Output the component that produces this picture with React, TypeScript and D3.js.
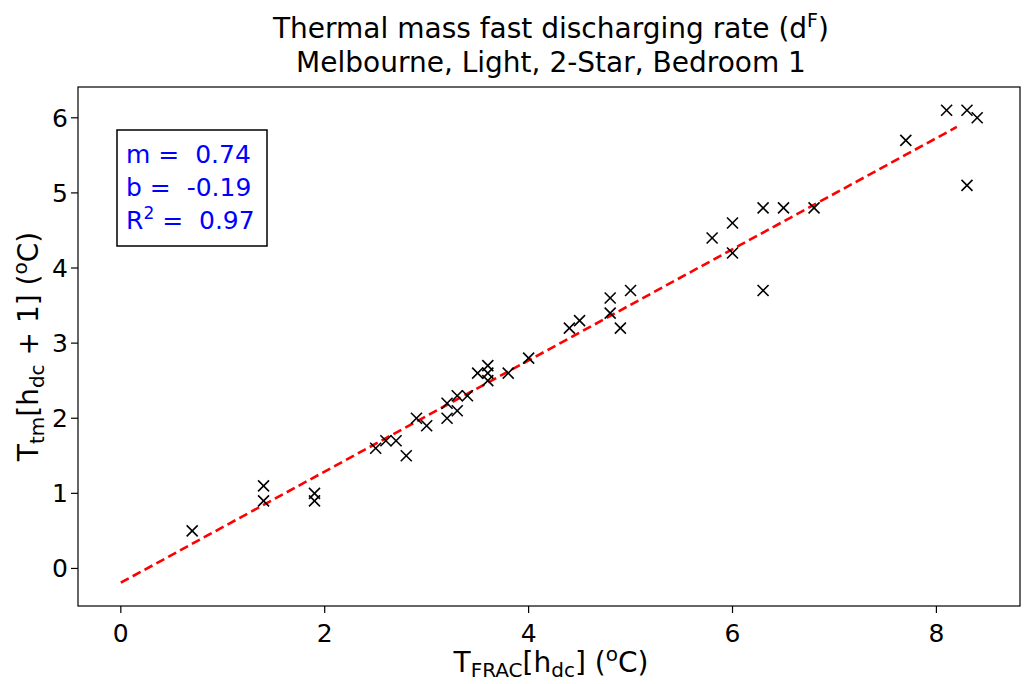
import React from 'react';
import * as d3 from 'd3';

const xVals = [0.7, 1.4, 1.4, 1.9, 1.9, 2.5, 2.6, 2.7, 2.8, 2.9, 3.0, 3.2, 3.2, 3.3, 3.3, 3.4, 3.5, 3.6, 3.6, 3.6, 3.8, 4.0, 4.4, 4.5, 4.8, 4.8, 4.9, 5.0, 5.8, 6.0, 6.0, 6.3, 6.3, 6.5, 6.8, 7.7, 8.1, 8.3, 8.4, 8.3];
const yVals = [0.5, 1.1, 0.9, 1.0, 0.9, 1.6, 1.7, 1.7, 1.5, 2.0, 1.9, 2.2, 2.0, 2.3, 2.1, 2.3, 2.6, 2.7, 2.6, 2.5, 2.6, 2.8, 3.2, 3.3, 3.6, 3.4, 3.2, 3.7, 4.4, 4.6, 4.2, 4.8, 3.7, 4.8, 4.8, 5.7, 6.1, 6.1, 6.0, 5.1];
const slope = 0.74;
const intercept = -0.19;
const rSquared = 0.97;
const fitX = [0, 8.2];
const xTicks = [0, 2, 4, 6, 8];
const yTicks = [0, 1, 2, 3, 4, 5, 6];

const FONT = 'DejaVu Sans';
const NB = '\u00a0';

export default function App() {
  const W = 1024, H = 684;
  const L = 78, R = 1020, T = 87, B = 606;
  const x = d3.scaleLinear().domain([-0.42, 8.82]).range([L, R]);
  const y = d3.scaleLinear().domain([-0.5, 6.41]).range([B, T]);
  const fitLine = d3.line<number>().x(d => x(d)).y(d => y(slope * d + intercept));
  const ms = 5.5;
  const cx = 551;
  return (
    <svg width={W} height={H} style={{ position: 'absolute', left: 0, top: 0, background: '#fff' }} fontFamily={FONT}>
      <rect x={0} y={0} width={W} height={H} fill="#fff" />
      {/* title */}
      <text x={cx} y={38} textAnchor="middle" fontSize={28} fill="#000">
        Thermal mass fast discharging rate (d<tspan dy={-11} fontSize={19}>F</tspan><tspan dy={11}>)</tspan>
      </text>
      <text x={cx} y={72} textAnchor="middle" fontSize={28} fill="#000">
        Melbourne, Light, 2-Star, Bedroom 1
      </text>
      {/* fit line */}
      <path d={fitLine(fitX) || ''} fill="none" stroke="#ff0000" strokeWidth={2.6} strokeDasharray="9,4.5" />
      {/* points */}
      {xVals.map((xv, i) => {
        const px = x(xv), py = y(yVals[i]);
        return (
          <g key={i} stroke="#000" strokeWidth={1.6}>
            <line x1={px - ms} y1={py - ms} x2={px + ms} y2={py + ms} />
            <line x1={px - ms} y1={py + ms} x2={px + ms} y2={py - ms} />
          </g>
        );
      })}
      {/* frame */}
      <rect x={L} y={T} width={R - L} height={B - T} fill="none" stroke="#000" strokeWidth={1.2} />
      {/* x ticks */}
      {xTicks.map(t => (
        <g key={'x' + t}>
          <line x1={x(t)} x2={x(t)} y1={B} y2={B + 7} stroke="#000" strokeWidth={1.2} />
          <text x={x(t)} y={B + 36} textAnchor="middle" fontSize={25} fill="#000">{t}</text>
        </g>
      ))}
      {yTicks.map(t => (
        <g key={'y' + t}>
          <line x1={L - 7} x2={L} y1={y(t)} y2={y(t)} stroke="#000" strokeWidth={1.2} />
          <text x={L - 10} y={y(t) + 9} textAnchor="end" fontSize={25} fill="#000">{t}</text>
        </g>
      ))}
      {/* x label */}
      <text x={cx} y={672} textAnchor="middle" fontSize={28} fill="#000">
        T<tspan dy={5} fontSize={20}>FRAC</tspan><tspan dy={-5}>[h</tspan><tspan dy={5} fontSize={20}>dc</tspan><tspan dy={-5}>] (</tspan><tspan dy={-11} fontSize={20}>o</tspan><tspan dy={11}>C)</tspan>
      </text>
      {/* y label */}
      <text transform={`translate(38, ${(T + B) / 2}) rotate(-90)`} textAnchor="middle" fontSize={28} fill="#000">
        T<tspan dy={6} fontSize={20}>tm</tspan><tspan dy={-6}>[h</tspan><tspan dy={6} fontSize={20}>dc</tspan><tspan dy={-6}>{`${NB}+${NB}1]${NB}(`}</tspan><tspan dy={-11} fontSize={20}>o</tspan><tspan dy={11}>C)</tspan>
      </text>
      {/* stats box */}
      <rect x={117} y={130} width={150} height={116} fill="#fff" stroke="#000" strokeWidth={1.5} />
      <text x={126} y={163} fontSize={25} fill="#0000ff">{`m${NB}=${NB}${NB}${slope.toFixed(2)}`}</text>
      <text x={126} y={196} fontSize={25} fill="#0000ff">{`b${NB}=${NB}${NB}${intercept.toFixed(2)}`}</text>
      <text x={126} y={229} fontSize={25} fill="#0000ff">R<tspan dy={-10} fontSize={17}>2</tspan><tspan dy={10}>{`${NB}=${NB}${NB}${rSquared.toFixed(2)}`}</tspan></text>
    </svg>
  );
}
